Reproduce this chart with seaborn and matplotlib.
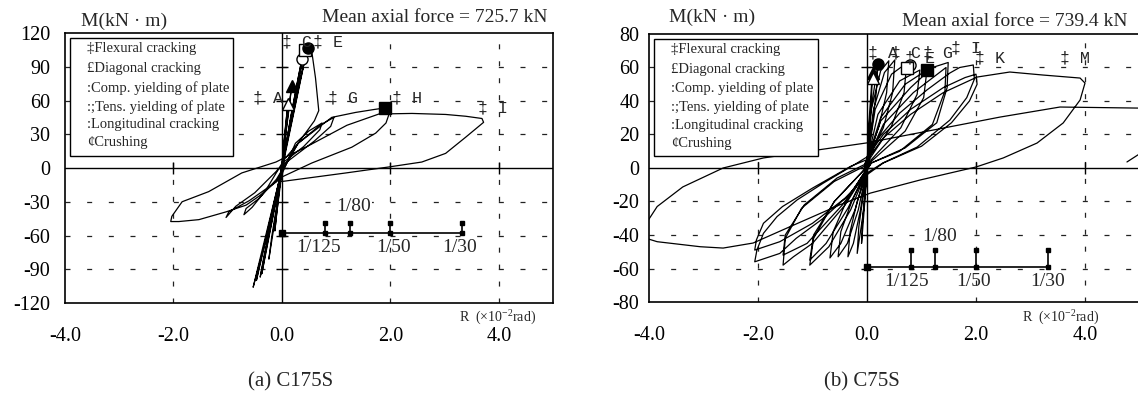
import matplotlib
matplotlib.use("Agg")
import matplotlib.pyplot as plt
from matplotlib.patches import Rectangle
import pandas as pd
import seaborn as sns

# ---------------- data ----------------
# (a) C175S : drift angle R (x10^-2 rad) and moment M (kN·m)
a_R = [0.00,
       0.04, 0.11, 0.08, 0.01, -0.06, -0.13, -0.10, -0.01,
       0.08, 0.18, 0.14, 0.02, -0.10, -0.24, -0.19, -0.02,
       0.16, 0.37, 0.30, 0.04, -0.16, -0.37, -0.30, -0.04,
       0.18, 0.40, 0.33, 0.05, -0.18, -0.40, -0.33, -0.05,
       0.22, 0.48, 0.55, 0.62, 0.68, 0.60, 0.30, 0.05, -0.22, -0.53, -0.45, -0.06,
       0.20, 0.44, 0.38, 0.05, -0.22, -0.47, -0.41, -0.05,
       0.25, 0.50, 0.74, 0.70, 0.40, 0.00, -0.30, -0.55, -0.70, -0.66, -0.42, -0.10,
       0.30, 0.70, 0.96, 0.90, 0.60, 0.00, -0.50, -0.85, -1.03, -0.98, -0.60, -0.10,
       0.30, 0.92, 1.36, 1.70, 1.90, 1.97, 1.92, 1.73, 1.29, 0.55, 0.00, -0.42, -0.66, -1.03,
       -1.53, -1.90, -2.05, -2.03, -1.84, -1.35, -0.74, -0.11,
       0.50, 1.20, 1.79, 2.40, 3.02, 3.39, 3.69, 3.72, 3.39, 3.02, 2.58, 1.97, 1.18, 0.00]
a_M = [0,
       25, 57, 42, 8, -25, -56, -42, -8,
       35, 73, 56, 10, -38, -81, -62, -10,
       45, 97, 80, 12, -42, -94, -75, -12,
       48, 100, 84, 12, -45, -97, -78, -12,
       55, 107, 104, 80, 51, 42, 22, 8, -50, -106, -90, -13,
       46, 101, 86, 10, -48, -100, -86, -11,
       22, 33, 40, 34, 19, 4, -20, -35, -41.5, -36, -27, -10,
       22, 38, 45, 37, 24, 2, -22, -34, -44, -39, -29, -12,
       22, 45, 49.4, 52, 53.4, 47, 40, 31, 18.5, 4.4, -8, -25, -33, -39,
       -45.9, -47.6, -47.6, -43, -30, -21, -4.4, 5.3,
       20, 38, 48, 48.5, 47.6, 46, 44, 40.6, 27.4, 13, 5.3, 0.9, -4.4, -12]

# (b) C75S
b_R = [0.00,
       0.03, 0.10, 0.08, 0.02, -0.04, -0.10, -0.08, -0.01,
       0.05, 0.20, 0.17, 0.04, -0.06, -0.18, -0.15, -0.02,
       0.08, 0.25, 0.40, 0.36, 0.22, 0.04, -0.12, -0.25, -0.35, -0.31, -0.18, -0.02,
       0.12, 0.32, 0.51, 0.47, 0.30, 0.05, -0.16, -0.36, -0.53, -0.48, -0.28, -0.03,
       0.15, 0.45, 0.73, 0.68, 0.45, 0.06, -0.22, -0.48, -0.68, -0.62, -0.38, -0.04,
       0.20, 0.60, 0.97, 0.92, 0.62, 0.08, -0.30, -0.70, -1.05, -0.98, -0.60, -0.05,
       0.25, 0.70, 1.10, 1.04, 0.70, 0.08, -0.35, -0.75, -1.05, -0.98, -0.60, -0.05,
       0.25, 0.80, 1.20, 1.49, 1.47, 1.28, 0.70, 0.08, -0.40, -1.00, -1.35, -1.54, -1.50, -1.20, -0.60, -0.05,
       0.30, 0.85, 1.45, 1.43, 1.20, 0.60, 0.08, -0.45, -1.10, -1.54, -1.50, -1.15, -0.55, -0.05,
       0.18, 0.60, 1.10, 1.52, 1.70, 1.95, 1.97, 1.83, 1.52, 0.92, 0.29, 0.00, -0.30, -0.80,
       -1.30, -1.60, -2.06, -2.02, -1.90, -1.65, -1.28, -0.80, -0.18, 0.00,
       0.30, 0.80, 1.40, 1.80, 2.00, 2.02, 1.88, 1.55, 1.00, 0.30, 0.00, -0.40, -1.00, -1.60,
       -2.06, -2.03, -1.90, -1.55, -1.00, -0.30, 0.00,
       0.30, 0.80, 1.40, 2.02, 2.62, 3.23, 3.91, 4.00, 3.91, 3.60, 3.12, 2.50, 2.00, 0.97, 0.06,
       -0.50, -1.41, -2.09, -2.64, -3.06, -3.85, -4.07, -4.07, -3.85, -3.38, -2.64, -1.90, -0.92, 0.00,
       2.44, 3.54, 4.95, 5.30, 5.30, 4.97, 4.77]
b_M = [0,
       25, 57, 40, 10, -20, -45, -30, -5,
       30, 62, 45, 12, -25, -51, -35, -5,
       35, 58, 64, 45, 25, 8, -25, -45, -53, -38, -20, -3,
       35, 57, 64.5, 45, 24, 7, -25, -45, -53, -38, -20, -3,
       35, 56, 62.7, 45, 25, 6, -25, -45, -53.7, -38, -20, -2,
       32, 52, 58.5, 44, 24, 5, -25, -47, -58, -42, -20, -1,
       30, 50, 58.5, 42, 22, 4, -24, -45, -55, -40, -20, -1,
       28, 48, 60, 63, 48, 27, 12, 3, -22, -45, -53, -58, -42, -24, -8, 1,
       26, 45, 60, 46, 26, 10, 3, -22, -45, -52, -40, -22, -6, 2,
       16.7, 32.8, 46.6, 56.7, 60, 61.5, 53, 42, 28.6, 12.5, 3, -3, -15, -30,
       -42, -51, -56, -49, -39, -29, -19, -9, 3, 6.6,
       20, 35, 48, 54, 56, 50, 40, 27, 13, 3, -4, -18, -33, -44,
       -49, -43, -33, -23, -12, 1, 5,
       18, 32, 45, 54.3, 57.3, 55.5, 53.7, 50.7, 40.6, 26.9, 14.9, 6, 0.6, -7.2, -15,
       -22, -35, -44.8, -47.8, -47, -44, -41.8, -34, -23, -11.3, 0, 6, 10.7, 15,
       30.4, 36.4, 35.8, 35.5, 12, 7.8, 3.6]

xticks = [-4.0, -2.0, 0.0, 2.0, 4.0]
xtick_labels = ["-4.0", "-2.0", "0.0", "2.0", "4.0"]
a_yticks = [-120, -90, -60, -30, 0, 30, 60, 90, 120]
b_yticks = [-80, -60, -40, -20, 0, 20, 40, 60, 80]

# event markers (order: filled tri, open tri, open circle, open square, filled circle, filled square)
mark_shape = ["^", "^", "o", "s", "o", "s"]
mark_fill = ["black", "white", "white", "white", "black", "black"]
a_mark_R = [0.18, 0.11, 0.37, 0.42, 0.48, 1.90]
a_mark_M = [73, 57, 97, 105, 107, 53.4]
b_mark_R = [0.11, 0.11, 0.79, 0.73, 0.20, 1.10]
b_mark_M = [57, 53.7, 61.5, 59.5, 62, 58.5]

# peak annotations ("‡" position)
a_ann_lab = ["A", "C", "E", "G", "H", "I"]
a_ann_R = [-0.44, 0.09, 0.66, 0.94, 2.12, 3.70]
a_ann_M = [62, 112, 112, 62, 62, 53.4]
b_ann_lab = ["A", "C", "E", "G", "I", "K", "M"]
b_ann_R = [0.11, 0.53, 0.79, 1.12, 1.63, 2.07, 3.63]
b_ann_M = [69, 69, 66, 69, 71.6, 66, 66]

# drift scale
drift_R = [0.8, 1.25, 2.0, 3.33]
drift_lab = ["1/125", "1/80", "1/50", "1/30"]
a_drift_lab_R = [0.67, 1.33, 2.05, 3.27]
b_drift_lab_R = [0.72, 1.34, 1.95, 3.32]

legend_labels = ["\u2021Flexural cracking", "\u00a3Diagonal cracking", ":Comp. yielding of plate",
                 ":;Tens. yielding of plate", ":Longitudinal cracking", "\u00a2Crushing"]

# ---------------- style ----------------
sns.set_style("white")
plt.rcParams["font.family"] = ["Liberation Serif", "DejaVu Serif"]
plt.rcParams["mathtext.fontset"] = "custom"
plt.rcParams["mathtext.rm"] = "Liberation Serif"
plt.rcParams["mathtext.it"] = "Liberation Serif:italic"
plt.rcParams["lines.scale_dashes"] = False
MONO = ["Liberation Mono", "DejaVu Sans Mono"]

W, H = 1138, 394
fig = plt.figure(figsize=(W / 100, H / 100), dpi=100)
fig.patch.set_facecolor("white")


def rect(l, r, t, b):
    return [l / W, 1 - b / H, (r - l) / W, (b - t) / H]


axA = fig.add_axes(rect(65, 553, 33, 303))
axB = fig.add_axes(rect(649, 1139.5, 34, 302))


def panel(ax, R, M, yticks, ypad, mR, mM, annR, annM, annL,
          drift_y, drift_top, lab_R, lab_below, lab_80):
    df = pd.DataFrame({"R": R, "M": M})
    sns.lineplot(data=df, x="R", y="M", sort=False, estimator=None,
                 color="black", lw=0.9, ax=ax, zorder=3)
    ax.set_xlim(-4, 5)
    ax.set_ylim(yticks[0], yticks[-1])
    ax.set_xlabel("")
    ax.set_ylabel("")
    for y in yticks[1:-1]:
        if y == 0:
            ax.axhline(0, color="black", lw=1.0, zorder=2)
        else:
            ax.axhline(y, color="#222222", lw=0.9, ls=(0, (3.6, 12)), zorder=1)
    for x in xticks[1:]:
        if x == 0:
            ax.axvline(0, color="black", lw=1.0, zorder=2)
        else:
            ax.axvline(x, color="#222222", lw=0.9, ls=(0, (3.6, 8.6)), zorder=1)
    ax.plot([0] * (len(yticks) - 2), yticks[1:-1], ls="none", marker="_",
            ms=8, mew=1.0, color="black", zorder=2)
    ax.plot(xticks[1:], [0] * (len(xticks) - 1), ls="none", marker="|",
            ms=8, mew=1.0, color="black", zorder=2)
    ax.set_xticks(xticks)
    ax.set_xticklabels(xtick_labels)
    ax.set_yticks(yticks)
    ax.set_yticklabels([str(v) for v in yticks])
    ax.tick_params(axis="both", length=0, labelsize=14.5, colors="black")
    ax.tick_params(axis="y", pad=ypad)
    ax.tick_params(axis="x", pad=17)
    for s in ax.spines.values():
        s.set_visible(True)
        s.set_color("black")
        s.set_linewidth(1.2)

    # markers
    for i in range(len(mR)):
        ax.plot(mR[i], mM[i], marker=mark_shape[i], ms=8.5 if mark_shape[i] == "s" else 8,
                mfc=mark_fill[i], mec="black", mew=1.0, ls="none", zorder=6)

    # annotations
    for r, m, lab in zip(annR, annM, annL):
        ax.annotate("\u2021 " + lab, xy=(r, m), xytext=(-3.6, 0), textcoords="offset points",
                    family=MONO, fontsize=12, ha="left", va="center", zorder=7)

    # drift scale
    ax.plot([0, drift_R[-1]], [drift_y, drift_y], color="black", lw=1.2, zorder=4)
    ax.vlines(drift_R, drift_y, drift_top, color="black", lw=1.2, zorder=4)
    ax.plot(drift_R, [drift_top] * len(drift_R), "s", ms=3, color="black", zorder=4)
    ax.plot(drift_R, [drift_y] * len(drift_R), "s", ms=3, color="black", zorder=4)
    ax.plot([0], [drift_y], "s", ms=4, color="black", zorder=4)
    for r, lab in zip(lab_R, drift_lab):
        y = lab_80 if lab == "1/80" else lab_below
        ax.text(r, y, lab, fontsize=14, ha="center", va="center", zorder=5,
                bbox=dict(facecolor="white", edgecolor="none", pad=0.5) if lab == "1/80" else None)

    # legend box
    ax.add_patch(Rectangle((0.011, 0.545), 0.334, 0.438, transform=ax.transAxes,
                           facecolor="white", edgecolor="black", lw=1.0, zorder=8))
    rows = [0.941, 0.868, 0.797, 0.727, 0.660, 0.593]
    for yy, lab in zip(rows, legend_labels):
        ax.text(0.045, yy, lab, transform=ax.transAxes, fontsize=10.5, ha="left",
                va="center", zorder=9)


panel(axA, a_R, a_M, a_yticks, 10.5, a_mark_R, a_mark_M, a_ann_R, a_ann_M, a_ann_lab,
      -58, -49, a_drift_lab_R, -71, -34)
panel(axB, b_R, b_M, b_yticks, 7, b_mark_R, b_mark_M, b_ann_R, b_ann_M, b_ann_lab,
      -59, -49, b_drift_lab_R, -68, -41)

# figure texts
fig.text(81 / W, 1 - 21 / H, "M(kN \u00b7 m)", fontsize=14, ha="left", va="center")
fig.text(669 / W, 1 - 17 / H, "M(kN \u00b7 m)", fontsize=14, ha="left", va="center")
fig.text(548 / W, 1 - 18 / H, "Mean axial force = 725.7 kN", fontsize=14, ha="right", va="center")
fig.text(1128 / W, 1 - 22 / H, "Mean axial force = 739.4 kN", fontsize=14, ha="right", va="center")
fig.text(459 / W, 1 - 318 / H, "R  (\u00d710$^{-2}$rad)", fontsize=10, ha="left", va="center")
fig.text(1022 / W, 1 - 318 / H, "R  (\u00d710$^{-2}$rad)", fontsize=10, ha="left", va="center")
fig.text(291 / W, 1 - 382 / H, "(a) C175S", fontsize=15, ha="center", va="center")
fig.text(862 / W, 1 - 382 / H, "(b) C75S", fontsize=15, ha="center", va="center")

fig.savefig("out.png", dpi=100, facecolor="white")
